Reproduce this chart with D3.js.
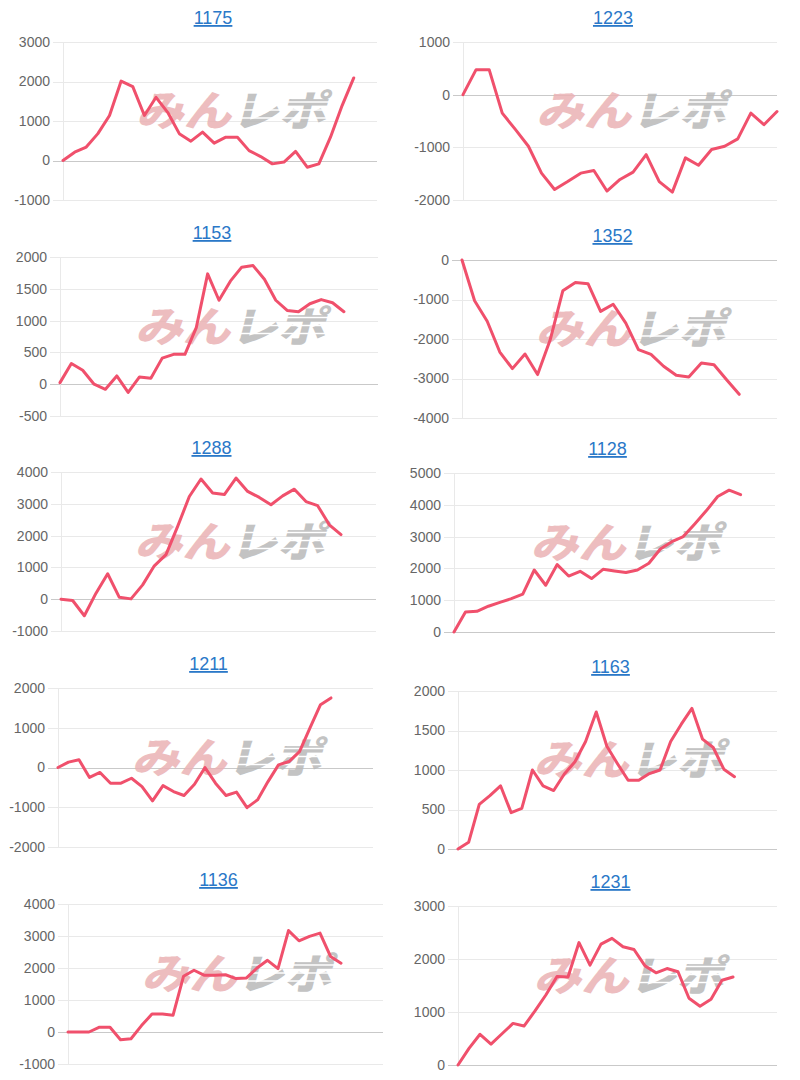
<!DOCTYPE html>
<html>
<head>
<meta charset="utf-8">
<script src="https://cdn.jsdelivr.net/npm/d3@7"></script>
<style>
  html, body { margin: 0; padding: 0; background: #ffffff; }
  svg { display: block; }
</style>
</head>
<body>
<svg id="chart" width="800" height="1080"></svg>
<script>
// ---------- DATA ----------
const titles = ["1175", "1223", "1153", "1352", "1288", "1128", "1211", "1163", "1136", "1231"];

// number of x slots (days) in each small chart
const slots = [28, 25, 29, 26, 28, 29, 31, 31, 31, 30];

const v1175 = [0, 210, 340, 680, 1140, 2010, 1870, 1140, 1600, 1220, 680, 490, 720, 440, 590, 590, 250, 100, -85, -40, 230, -170, -85, 590, 1390, 2090];
const v1223 = [0, 475, 475, -350, -660, -980, -1490, -1800, -1650, -1490, -1440, -1830, -1610, -1470, -1140, -1650, -1850, -1200, -1340, -1040, -980, -840, -350, -570, -320];
const v1153 = [25, 325, 220, 0, -80, 130, -130, 115, 95, 410, 470, 470, 890, 1735, 1320, 1620, 1840, 1865, 1650, 1320, 1160, 1140, 1265, 1330, 1280, 1140];
const v1352 = [0, -1030, -1550, -2330, -2750, -2380, -2900, -2020, -780, -570, -600, -1300, -1120, -1600, -2270, -2390, -2690, -2920, -2960, -2610, -2650, -3030, -3400];
const v1288 = [0, -40, -520, 190, 800, 60, 10, 450, 1050, 1400, 2290, 3230, 3780, 3340, 3290, 3810, 3390, 3200, 2970, 3250, 3460, 3070, 2940, 2340, 2030];
const v1128 = [0, 630, 650, 810, 930, 1050, 1190, 1950, 1470, 2120, 1760, 1910, 1680, 1970, 1920, 1870, 1950, 2160, 2610, 2840, 3000, 3400, 3810, 4260, 4460, 4320];
const v1211 = [0, 135, 195, -250, -125, -395, -395, -270, -480, -840, -455, -605, -705, -420, 0, -395, -705, -620, -1010, -815, -355, 65, 150, 400, 995, 1580, 1750];
const v1163 = [0, 85, 565, 675, 800, 460, 515, 1000, 800, 740, 950, 1105, 1360, 1735, 1300, 1080, 870, 870, 955, 1000, 1360, 1580, 1780, 1390, 1285, 1010, 915];
const v1136 = [0, 0, 0, 150, 150, -240, -210, 200, 560, 560, 520, 1740, 1930, 1770, 1770, 1790, 1670, 1690, 2000, 2240, 1980, 3170, 2850, 2990, 3090, 2360, 2150];
const v1231 = [0, 315, 580, 395, 590, 785, 735, 1020, 1325, 1670, 1660, 2310, 1885, 2280, 2390, 2230, 2180, 1870, 1740, 1820, 1760, 1260, 1110, 1240, 1600, 1660];

const series = [v1175, v1223, v1153, v1352, v1288, v1128, v1211, v1163, v1136, v1231];

// y-axis tick labels of each chart
const ticks1175 = [-1000, 0, 1000, 2000, 3000];
const ticks1223 = [-2000, -1000, 0, 1000];
const ticks1153 = [-500, 0, 500, 1000, 1500, 2000];
const ticks1352 = [-4000, -3000, -2000, -1000, 0];
const ticks1288 = [-1000, 0, 1000, 2000, 3000, 4000];
const ticks1128 = [0, 1000, 2000, 3000, 4000, 5000];
const ticks1211 = [-2000, -1000, 0, 1000, 2000];
const ticks1163 = [0, 500, 1000, 1500, 2000];
const ticks1136 = [-1000, 0, 1000, 2000, 3000, 4000];
const ticks1231 = [0, 1000, 2000, 3000];

const tickSets = [ticks1175, ticks1223, ticks1153, ticks1352, ticks1288, ticks1128, ticks1211, ticks1163, ticks1136, ticks1231];

const watermarkLeft = "みん";
const watermarkRight = "レポ";

// ---------- LAYOUT (plot boxes: x0, x1, yTop, yBottom) ----------
const boxes = [
  [63, 377, 42, 200], [463, 777, 42, 200],
  [60, 378, 257, 416], [462, 777, 260, 418],
  [61, 376, 472, 631], [454, 775, 473, 632],
  [58, 373, 688, 847], [458, 777, 691, 849],
  [68, 383, 904, 1064], [458, 777, 906, 1065]
];

const svg = d3.select("#chart");
const FONT = "'Liberation Sans', Arial, sans-serif";

titles.forEach((title, i) => {
  const [x0, x1, yT, yB] = boxes[i];
  const vals = series[i].concat(d3.range(slots[i] - series[i].length).map(() => null));
  const tks = tickSets[i];

  const x = d3.scaleLinear().domain([0, slots[i] - 1]).range([x0, x1]);
  const y = d3.scaleLinear().domain(d3.extent(tks)).range([yB, yT]);

  const g = svg.append("g");

  // title
  g.append("text")
    .attr("x", (x0 + x1) / 2 - 7)
    .attr("y", yT - 18)
    .attr("text-anchor", "middle")
    .attr("font-family", FONT)
    .attr("font-size", 18)
    .attr("fill", "#2a78c8")
    .attr("text-decoration", "underline")
    .text(title);

  // y axis via d3.axisLeft
  const axis = d3.axisLeft(y)
    .tickValues(tks)
    .tickSize(-(x1 - x0))
    .tickPadding(0)
    .tickFormat(d => String(d));

  const ag = g.append("g")
    .attr("transform", `translate(${x0},0)`)
    .call(axis);
  ag.select(".domain").remove();
  ag.selectAll(".tick line")
    .attr("x1", -10)
    .attr("stroke", d => d === 0 ? "#c9c9c9" : "#e9e9e9")
    .attr("stroke-width", 1)
    .attr("shape-rendering", "crispEdges");
  ag.selectAll(".tick text")
    .attr("x", -13)
    .attr("font-family", FONT)
    .attr("font-size", 14)
    .attr("fill", "#666666");

  // vertical axis line
  g.append("line")
    .attr("x1", x0).attr("x2", x0)
    .attr("y1", yT).attr("y2", yB)
    .attr("stroke", "#e9e9e9")
    .attr("shape-rendering", "crispEdges");

  // watermark
  const cx = (x0 + x1) / 2 + 12;
  const cy = (yT + yB) / 2 - 10;
  const wm = g.append("g")
    .attr("opacity", 0.85)
    .attr("transform", `translate(${cx},${cy}) skewX(-14)`);
  const wt = wm.append("text")
    .attr("x", -92)
    .attr("y", 15)
    .attr("font-family", "'Noto Sans CJK JP', sans-serif")
    .attr("font-weight", 900)
    .attr("font-size", 42)
    .attr("textLength", 190)
    .attr("lengthAdjust", "spacingAndGlyphs");
  wt.append("tspan").attr("fill", "#eab2b4").text(watermarkLeft);
  wt.append("tspan").attr("fill", "#b9b9b9").text(watermarkRight);
  // speed stripes over the grey half
  [-9, -1, 7].forEach(dy => {
    wm.append("line")
      .attr("x1", 5).attr("x2", 100)
      .attr("y1", dy).attr("y2", dy)
      .attr("stroke", "#ffffff")
      .attr("stroke-width", 1.6);
  });

  // line
  const line = d3.line()
    .defined(d => d !== null)
    .x((d, j) => x(j))
    .y(d => y(d));

  g.append("path")
    .datum(vals)
    .attr("d", line)
    .attr("fill", "none")
    .attr("stroke", "#f0506c")
    .attr("stroke-width", 3)
    .attr("stroke-linejoin", "round")
    .attr("stroke-linecap", "round");
});
</script>
</body>
</html>
